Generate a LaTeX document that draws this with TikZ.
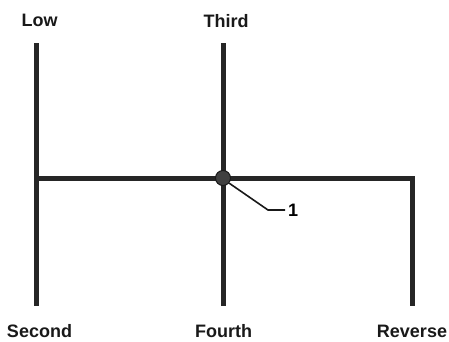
\documentclass[tikz,border=0pt]{standalone}
\usepackage{fontspec}
\setmainfont{Liberation Sans}
\begin{document}
\begin{tikzpicture}[x=1pt,y=-1pt,
  lbl/.style={font=\bfseries\fontsize{18}{20}\selectfont, inner sep=0pt, anchor=base, text=black!90},
  rod/.style={line width=5pt, draw=black!85},
  leader/.style={line width=1.6pt, draw=black!90}]
\useasboundingbox (0,0) rectangle (449,341);
% labels
\node[lbl] (low) at (39.5,26) {Low};
\node[lbl] (third) at (226,27) {Third};
\node[lbl] (second) at (39.5,337) {Second};
\node[lbl] (fourth) at (223.5,337) {Fourth};
\node[lbl] (reverse) at (412,337) {Reverse};
% rod end points
\coordinate (lt) at (36,43);
\coordinate (lb) at (36,306);
\coordinate (ml) at (36,178);
\coordinate (mt) at (223,43);
\coordinate (mb) at (223,306);
\coordinate (rc) at (412,178);
\coordinate (rb) at (412,306);
\draw[rod] (lt) -- (lb);
\draw[rod] (mt) -- (mb);
\draw[rod, line join=miter] (ml) -- (rc) -- (rb);
% junction
\node[circle, fill=black!75, draw=black!90, line width=1pt, minimum size=15pt, inner sep=0pt] (j) at (223,178) {};
% leader and callout
\coordinate (k) at (268,210);
\node[font=\bfseries\fontsize{18}{20}\selectfont, inner sep=0pt, anchor=west] (one) at (288,210) {1};
\draw[leader] (j.-40) -- (k) -- (one.west -| 285,0);
\end{tikzpicture}
\end{document}
